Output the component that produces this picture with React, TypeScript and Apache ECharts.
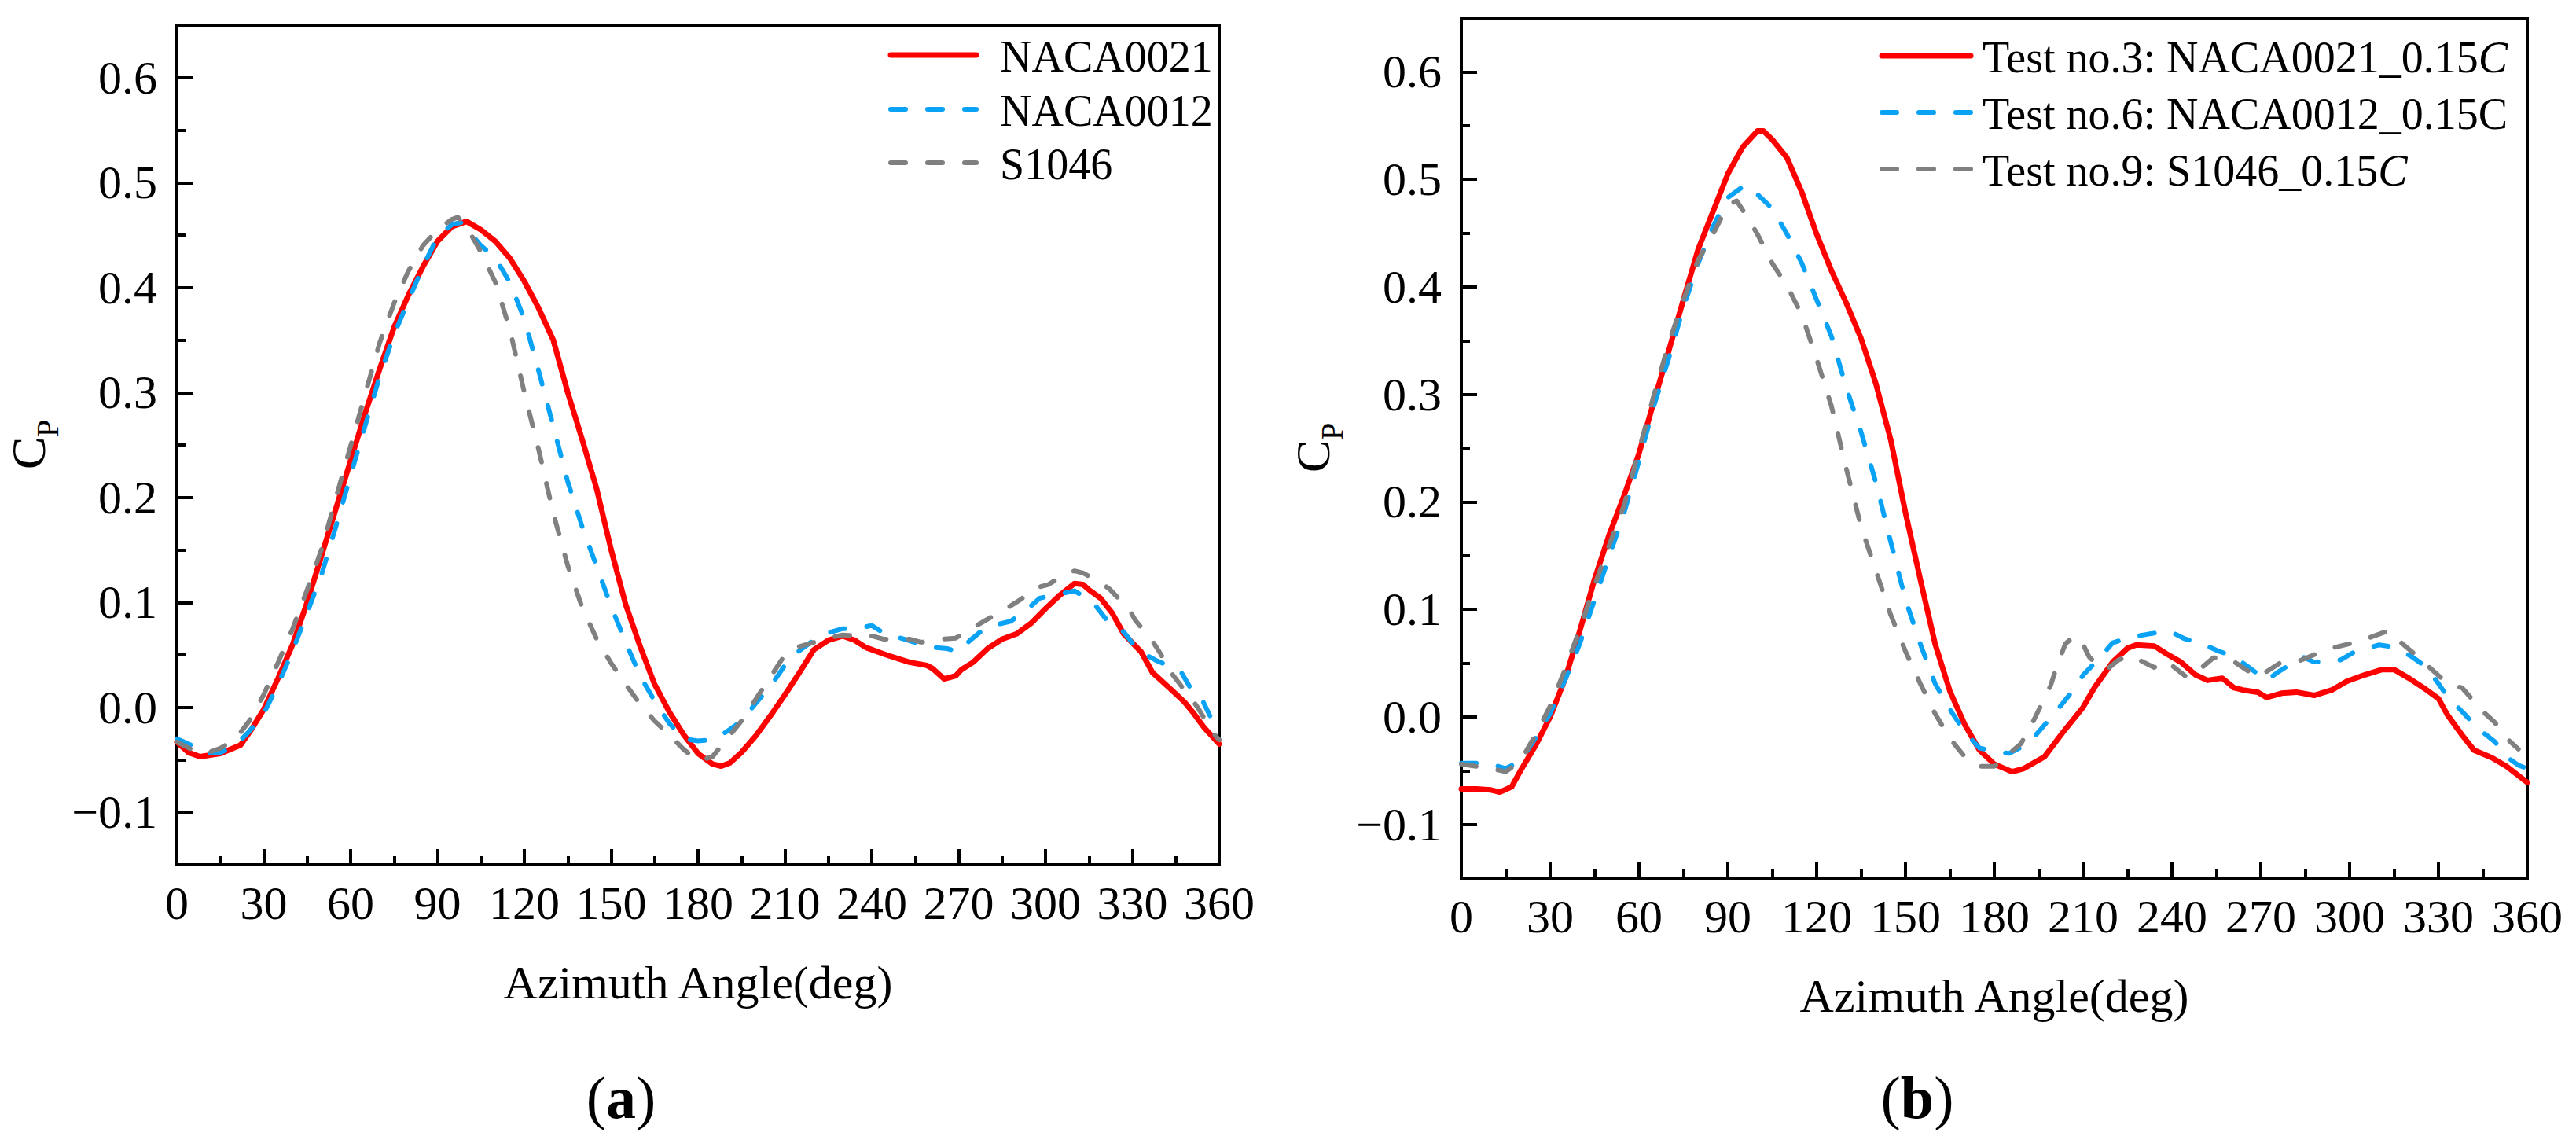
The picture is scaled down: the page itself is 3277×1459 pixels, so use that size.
import React, { useEffect, useRef } from "react";
import * as echarts from "echarts";

// ---------- data (azimuth angle in deg, Cp) ----------
const X_TICKS = [0, 30, 60, 90, 120, 150, 180, 210, 240, 270, 300, 330, 360];
const Y_TICKS = [-0.1, 0, 0.1, 0.2, 0.3, 0.4, 0.5, 0.6];
const X_MIN = 0;
const X_MAX = 360;
const Y_MIN = -0.15;
const Y_MAX = 0.65;

const A_NAMES = ["NACA0021", "NACA0012", "S1046"];
const B_NAMES = ["Test no.3: NACA0021_0.15C", "Test no.6: NACA0012_0.15C", "Test no.9: S1046_0.15C"];

const A_RED_DEG = [0,4,8,15,22,26,30,35,40,45,50,55,60,65,70,75,80,85,90,95,100,105,110,115,120,125,130,135,140,145,150,155,160,165,170,175,180,185,188,191,195,200,205,210,215,220,225,230,234,238,245,253,259,261,265,269,271,275,280,285,290,295,300,305,310,313,315,319,323,327,333,337,343,348,351,355,360];
const A_RED_CP = [-0.033,-0.043,-0.047,-0.044,-0.036,-0.02,-0.002,0.028,0.06,0.1,0.145,0.19,0.235,0.28,0.322,0.362,0.393,0.42,0.444,0.458,0.463,0.455,0.444,0.428,0.406,0.38,0.35,0.3,0.255,0.208,0.15,0.098,0.058,0.022,-0.004,-0.026,-0.044,-0.054,-0.056,-0.053,-0.043,-0.027,-0.008,0.012,0.033,0.055,0.064,0.068,0.064,0.057,0.050,0.043,0.040,0.037,0.027,0.030,0.036,0.043,0.056,0.065,0.070,0.080,0.094,0.107,0.118,0.117,0.112,0.104,0.090,0.070,0.053,0.033,0.018,0.005,-0.005,-0.020,-0.035];

const A_BLUE_DEG = [0,5,10,15,20,25,30,35,40,45,50,55,60,65,70,75,80,85,90,95,98,100,105,110,115,120,125,130,135,140,145,150,155,160,165,170,175,180,185,190,195,200,205,210,215,220,225,230,235,240,244,250,256,262,266,270,274,278,282,288,294,298,305,310,313,317,322,327,332,338,343,347,351,354,358,360];
const A_BLUE_CP = [-0.03,-0.036,-0.044,-0.043,-0.037,-0.023,-0.006,0.022,0.054,0.09,0.127,0.173,0.221,0.268,0.315,0.355,0.388,0.42,0.448,0.46,0.462,0.456,0.44,0.428,0.405,0.37,0.32,0.268,0.215,0.172,0.134,0.096,0.062,0.03,0.006,-0.015,-0.03,-0.032,-0.031,-0.023,-0.013,0.004,0.02,0.04,0.054,0.064,0.071,0.075,0.075,0.078,0.071,0.066,0.061,0.057,0.056,0.053,0.064,0.073,0.078,0.082,0.094,0.104,0.108,0.111,0.106,0.098,0.08,0.072,0.054,0.045,0.039,0.033,0.014,0.008,-0.015,-0.027];

const A_GRAY_DEG = [0,5,10,15,20,25,30,35,40,45,50,55,60,65,70,75,80,85,90,95,97,100,105,110,115,120,125,130,135,140,145,150,155,160,165,170,175,180,185,190,195,200,205,210,215,220,225,230,235,240,244,253,257,264,269,275,280,287,291,297,301,308,310,313,319,322,329,331,337,340,342,347,350,353,358,360];
const A_GRAY_CP = [-0.033,-0.04,-0.044,-0.039,-0.031,-0.013,0.012,0.043,0.075,0.112,0.151,0.2,0.249,0.298,0.347,0.385,0.416,0.44,0.455,0.465,0.467,0.458,0.434,0.405,0.36,0.3,0.245,0.185,0.135,0.095,0.065,0.042,0.022,0.003,-0.013,-0.026,-0.04,-0.051,-0.047,-0.03,-0.013,0.008,0.029,0.05,0.058,0.062,0.066,0.069,0.068,0.068,0.065,0.065,0.062,0.065,0.066,0.076,0.084,0.095,0.102,0.114,0.117,0.129,0.13,0.128,0.119,0.113,0.093,0.083,0.063,0.05,0.038,0.02,0.01,-0.002,-0.025,-0.031];

const B_RED_DEG = [0,5,10,13,17,20,25,30,35,40,45,50,55,60,65,70,75,80,85,90,95,100,102,105,110,115,120,125,130,135,140,145,150,155,160,165,170,175,180,186,190,197,203,210,214,220,225,228,234,238,243,248,252,257,261,264,269,272,277,282,288,294,299,305,311,315,320,325,330,333,338,342,348,353,360];
const B_RED_CP = [-0.067,-0.067,-0.068,-0.07,-0.065,-0.05,-0.027,0.0,0.035,0.08,0.128,0.17,0.206,0.245,0.293,0.34,0.388,0.435,0.47,0.505,0.53,0.545,0.545,0.537,0.52,0.488,0.449,0.415,0.385,0.352,0.31,0.258,0.19,0.128,0.068,0.024,-0.007,-0.031,-0.044,-0.051,-0.048,-0.037,-0.015,0.009,0.028,0.051,0.064,0.067,0.066,0.059,0.051,0.039,0.034,0.036,0.027,0.025,0.023,0.018,0.022,0.023,0.02,0.025,0.033,0.039,0.044,0.044,0.036,0.027,0.017,0.002,-0.017,-0.031,-0.038,-0.046,-0.061];

const B_BLUE_DEG = [0,5,10,15,20,25,30,35,40,45,50,55,60,65,70,75,80,85,90,95,98,100,105,110,115,120,125,130,135,140,145,150,155,160,165,170,175,180,185,190,193,200,207,210,216,220,226,232,239,244,251,255,261,266,272,276,284,288,297,302,310,315,321,326,330,333,339,343,349,353,357,360];
const B_BLUE_CP = [-0.043,-0.043,-0.044,-0.048,-0.041,-0.02,0.003,0.034,0.068,0.109,0.15,0.19,0.238,0.289,0.333,0.381,0.422,0.456,0.483,0.493,0.493,0.486,0.473,0.449,0.422,0.388,0.354,0.306,0.265,0.218,0.163,0.109,0.068,0.031,0.007,-0.014,-0.029,-0.032,-0.034,-0.027,-0.02,0.002,0.026,0.039,0.056,0.069,0.074,0.077,0.08,0.073,0.067,0.062,0.056,0.046,0.034,0.042,0.056,0.051,0.053,0.061,0.067,0.065,0.056,0.046,0.031,0.019,0.002,-0.01,-0.023,-0.037,-0.045,-0.048];

const B_GRAY_DEG = [0,5,10,15,20,25,30,35,40,45,50,55,60,65,70,75,80,85,90,93,97,100,105,110,115,120,125,130,135,140,145,150,155,160,165,170,175,180,186,189,193,199,201,204,207,209,212,216,218,222,226,234,238,245,248,254,259,265,269,277,282,289,294,303,306,313,317,323,327,333,338,345,349,353,357];
const B_GRAY_CP = [-0.044,-0.046,-0.048,-0.051,-0.041,-0.017,0.01,0.044,0.082,0.122,0.16,0.197,0.248,0.299,0.347,0.388,0.425,0.449,0.476,0.48,0.463,0.449,0.422,0.401,0.374,0.333,0.289,0.231,0.177,0.136,0.095,0.061,0.031,0.003,-0.02,-0.037,-0.046,-0.046,-0.032,-0.025,-0.005,0.029,0.046,0.068,0.075,0.073,0.056,0.045,0.044,0.053,0.057,0.046,0.052,0.037,0.041,0.055,0.055,0.044,0.037,0.051,0.051,0.059,0.064,0.07,0.073,0.08,0.07,0.056,0.046,0.031,0.027,0.005,-0.005,-0.02,-0.03];

// ---------- styling ----------
const FONT = "Liberation Serif";
const RED = "#ff0000";
const BLUE = "#0aa2f5";
const GRAY = "#808080";
const COLORS = [RED, BLUE, GRAY];
const WIDTHS = [7, 6, 6];
const DASH = [19, 28];

const pairs = (xs: number[], ys: number[]) => xs.map((x, i) => [x, ys[i]]);

const fmtY = (v: number) => {
  const r = Math.round(v * 10) / 10;
  return r < 0 ? "\u2212" + Math.abs(r).toFixed(1) : Math.abs(r).toFixed(1);
};

function xAxisFor(gridIndex: number) {
  return {
    gridIndex,
    type: "value",
    min: X_MIN,
    max: X_MAX,
    interval: 30,
    axisLine: { show: true, onZero: false, lineStyle: { color: "#000", width: 4 } },
    axisTick: { show: true, inside: true, length: 20, lineStyle: { color: "#000", width: 4 } },
    minorTick: { show: true, splitNumber: 2, length: 11, lineStyle: { color: "#000", width: 4 } },
    axisLabel: { show: false },
    splitLine: { show: false },
    minorSplitLine: { show: false },
  };
}

function yAxesFor(gridIndex: number) {
  return [
    {
      gridIndex,
      type: "value",
      min: Y_MIN,
      max: Y_MAX,
      interval: 0.05,
      axisLine: { show: true, onZero: false, lineStyle: { color: "#000", width: 4 } },
      axisTick: { show: true, inside: true, length: 11, lineStyle: { color: "#000", width: 4 } },
      axisLabel: { show: false },
      splitLine: { show: false },
    },
    {
      gridIndex,
      type: "value",
      min: Y_MIN,
      max: Y_MAX,
      position: "left",
      axisLine: { show: false },
      axisTick: {
        show: true,
        inside: true,
        length: 20,
        customValues: Y_TICKS,
        lineStyle: { color: "#000", width: 4 },
      },
      axisLabel: { show: false },
      splitLine: { show: false },
    },
  ];
}

function lineSeries(name: string, data: number[][], idx: number, g: number) {
  const color = COLORS[idx];
  return {
    type: "line",
    name,
    xAxisIndex: g,
    yAxisIndex: g * 2,
    data,
    symbol: "none",
    showSymbol: false,
    smooth: false,
    lineStyle: {
      color,
      width: WIDTHS[idx],
      type: idx === 0 ? "solid" : DASH,
      cap: "round",
      join: "round",
    },
    itemStyle: { color },
    z: 3,
  };
}

function txt(text: string, x: number, y: number, size: number, align: string, extra: any = {}) {
  return {
    type: "text",
    x,
    y,
    z: 10,
    style: { text, fontFamily: FONT, fontSize: size, fill: "#000", align, verticalAlign: "middle", ...extra },
  };
}

function yTitle(x: number, y: number) {
  return {
    type: "group",
    x,
    y,
    rotation: Math.PI / 2,
    children: [txt("C", 0, -21, 62, "left"), txt("P", 41, 3, 40, "left")],
  };
}

function panelLabel(letter: string, x: number, y: number) {
  return {
    type: "text",
    x,
    y,
    style: {
      text: "{p|(}{b|" + letter + "}{p|)}",
      align: "center",
      verticalAlign: "middle",
      rich: {
        p: { fontFamily: FONT, fontSize: 76, fill: "#000" },
        b: { fontFamily: FONT, fontSize: 76, fontWeight: "bold", fill: "#000" },
      },
    },
  };
}

// rich text for legend entries (italic C where the original uses it)
const B_RICH: Record<string, string> = {
  "Test no.3: NACA0021_0.15C": "{r|Test no.3: NACA0021_0.15}{i|C}",
  "Test no.6: NACA0012_0.15C": "{r|Test no.6: NACA0012_0.15C}",
  "Test no.9: S1046_0.15C": "{r|Test no.9: S1046_0.15}{i|C}",
};

function legendBlock(names: string[], x0: number, lineLen: number, textGap: number, rowsY: number[], rich: boolean) {
  const out: any[] = [];
  names.forEach((name, i) => {
    const y = rowsY[i];
    out.push({
      type: "line",
      z: 10,
      shape: { x1: x0 + 3, y1: y, x2: x0 + lineLen - 3, y2: y },
      style: {
        stroke: COLORS[i],
        lineWidth: WIDTHS[i],
        lineCap: "round",
        lineDash: i === 0 ? null : DASH,
      },
    });
    const tx = x0 + lineLen + textGap;
    if (rich) {
      out.push({
        type: "text",
        x: tx,
        y: y + 2,
        z: 10,
        style: {
          text: B_RICH[name] || name,
          align: "left",
          verticalAlign: "middle",
          rich: {
            r: { fontFamily: FONT, fontSize: 56, fill: "#000" },
            i: { fontFamily: FONT, fontSize: 56, fontStyle: "italic", fill: "#000" },
          },
        },
      });
    } else {
      out.push(txt(name, tx, y + 2, 56, "left"));
    }
  });
  return out;
}

export default function App() {
  const ref = useRef<HTMLDivElement | null>(null);

  useEffect(() => {
    if (!ref.current) return;
    const chart = echarts.init(ref.current, null, { renderer: "svg" });

    const option: any = {
      animation: false,
      backgroundColor: "#ffffff",
      textStyle: { fontFamily: FONT, color: "#000" },
      grid: [
        { left: 225, top: 32, width: 1326, height: 1068, show: true, borderColor: "#000", borderWidth: 4, backgroundColor: "transparent", containLabel: false, outerBoundsMode: "none" },
        { left: 1859, top: 23, width: 1356, height: 1094, show: true, borderColor: "#000", borderWidth: 4, backgroundColor: "transparent", containLabel: false, outerBoundsMode: "none" },
      ],
      xAxis: [xAxisFor(0), xAxisFor(1)],
      yAxis: [...yAxesFor(0), ...yAxesFor(1)],
      series: [
        lineSeries(A_NAMES[0], pairs(A_RED_DEG, A_RED_CP), 0, 0),
        lineSeries(A_NAMES[1], pairs(A_BLUE_DEG, A_BLUE_CP), 1, 0),
        lineSeries(A_NAMES[2], pairs(A_GRAY_DEG, A_GRAY_CP), 2, 0),
        lineSeries(B_NAMES[0], pairs(B_RED_DEG, B_RED_CP), 0, 1),
        lineSeries(B_NAMES[1], pairs(B_BLUE_DEG, B_BLUE_CP), 1, 1),
        lineSeries(B_NAMES[2], pairs(B_GRAY_DEG, B_GRAY_CP), 2, 1),
      ],
    };

    chart.setOption(option);

    // tick labels and titles placed through the axes' own scales
    const graphics: any[] = [];
    [0, 1].forEach((g) => {
      const finder = { gridIndex: g };
      const [axisX, axisY] = chart.convertToPixel(finder as any, [X_MIN, Y_MIN]) as number[];
      X_TICKS.forEach((v) => {
        const p = chart.convertToPixel(finder as any, [v, Y_MIN]) as number[];
        graphics.push(txt(String(v), p[0], axisY + 49, 60, "center"));
      });
      Y_TICKS.forEach((v) => {
        const p = chart.convertToPixel(finder as any, [X_MIN, v]) as number[];
        graphics.push(txt(fmtY(v), axisX - 25, p[1], 60, "right"));
      });
      const [rightX, topY] = chart.convertToPixel(finder as any, [X_MAX, Y_MAX]) as number[];
      const cx = (axisX + rightX) / 2;
      const cy = (axisY + topY) / 2;
      graphics.push(yTitle(axisX - 168, cy + 31));
      graphics.push(txt("Azimuth Angle(deg)", cx, axisY + 150, 60, "center"));
      graphics.push(panelLabel(g === 0 ? "a" : "b", cx - 98, 1396));
    });

    graphics.push(...legendBlock(A_NAMES, 1130, 115, 27, [70, 139, 207], false));
    graphics.push(...legendBlock(B_NAMES, 2391, 119, 12, [71, 143, 215], true));

    chart.setOption({ graphic: graphics });
    return () => chart.dispose();
  }, []);

  return (
    <div
      ref={ref}
      style={{ position: "fixed", left: 0, top: 0, width: 3277, height: 1459, background: "#fff" }}
    />
  );
}
